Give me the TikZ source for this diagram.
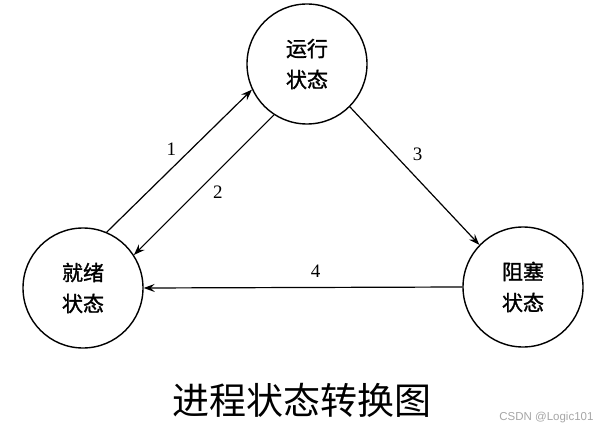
\documentclass[tikz,border=0pt]{standalone}
\usepackage{fontspec}
\usepackage{tikz}
\usetikzlibrary{arrows.meta}
\setmainfont{Liberation Serif}
\setsansfont{Liberation Sans}
\newfontfamily\cjk{Noto Sans CJK SC}
\newfontfamily\cjkb{Noto Sans CJK SC}[FakeBold=1.3]
\tikzset{
  state/.style={draw,circle,line width=1.4pt,minimum size=120pt,inner sep=0pt,
    align=center,font=\cjkb\fontsize{21}{31}\selectfont},
  arr/.style={line width=1.2pt,-{Stealth[length=11pt,width=8pt,inset=4pt]}},
  num/.style={font=\fontsize{19}{19}\selectfont}
}
\begin{document}
\begin{tikzpicture}[x=1pt,y=-1pt]
	\useasboundingbox (0,0) rectangle (599,430);
	\node[state] (run) at (307,64) {运行\\状态};
	\node[state] (ready) at (83,288) {就绪\\状态};
	\node[state] (block) at (523,287) {阻塞\\状态};
	\draw[arr] (ready.67) -- (run.205) node[num,midway,xshift=-8pt,yshift=12pt] {1};
	\draw[arr] (run.237) -- (ready.33) node[num,midway,xshift=14pt,yshift=-7pt] {2};
	\draw[arr] (run.315) -- (block.136) node[num,midway,xshift=3pt,yshift=22pt] {3};
	\draw[arr] (block.180) -- (ready.0) node[num,pos=.46,yshift=16pt] {4};
	\node[font=\cjk\fontsize{37}{37}\selectfont] (title) at (302,400) {进程状态转换图};
	\node[anchor=east,text=black!35,font=\sffamily\fontsize{11.5}{11.5}\selectfont] (mark) at (597,418) {CSDN @Logic101};
\end{tikzpicture}
\end{document}
